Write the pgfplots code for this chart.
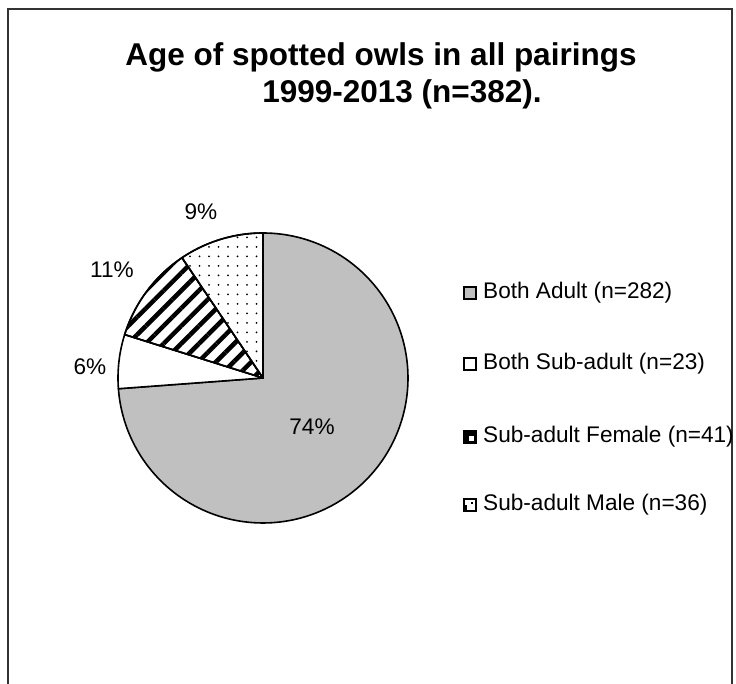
\documentclass[border=0pt]{standalone}
\usepackage{pgfplots}
\pgfplotsset{compat=1.18}
\usepackage{fontspec}
\setmainfont{Liberation Sans}
\usetikzlibrary{patterns.meta}
\definecolor{pieGray}{RGB}{192,192,192}
% counts of pairings
\def\cA{282}% Both Adult
\def\cB{23}% Both Sub-adult
\def\cC{41}% Sub-adult Female
\def\cD{36}% Sub-adult Male
\pgfmathsetmacro\tot{\cA+\cB+\cC+\cD}
\pgfmathsetmacro\aA{90-(\cA/\tot)*360}
\pgfmathsetmacro\aB{\aA-(\cB/\tot)*360}
\pgfmathsetmacro\aC{\aB-(\cC/\tot)*360}
\begin{document}
\begin{tikzpicture}[x=1pt,y=1pt]
\path[use as bounding box] (0,0) rectangle (736,684);
\draw[line width=1.5pt, black!80] (8,-10) -- (8,675) -- (732,675) -- (732,-10);
\node[font=\fontsize{31.5}{36}\selectfont\bfseries] at (381,627) {Age of spotted owls in all pairings};
\node[font=\fontsize{31.5}{36}\selectfont\bfseries] at (402,590) {1999-2013 (n=382).};
\begin{axis}[at={(263pt,306pt)}, anchor=center, hide axis, x=145pt, y=145pt,
  xmin=-1, xmax=1, ymin=-1, ymax=1, clip=false]
\addplot[draw=black, line width=1.6pt, line join=round, fill=pieGray, domain=\aA:90, samples=150, variable=\t]
  ({cos(\t)},{sin(\t)}) -- (axis cs:0,0) -- cycle;
\addplot[draw=black, line width=1.6pt, line join=round, fill=white, domain=\aB:\aA, samples=30, variable=\t]
  ({cos(\t)},{sin(\t)}) -- (axis cs:0,0) -- cycle;
\addplot[draw=black, line width=1.6pt, line join=round, preaction={fill=white}, pattern={Lines[angle=45,distance=12.5pt,line width=4.5pt]}, pattern color=black, domain=\aC:\aB, samples=40, variable=\t]
  ({cos(\t)},{sin(\t)}) -- (axis cs:0,0) -- cycle;
\addplot[draw=black, line width=1.6pt, line join=round, preaction={fill=white}, pattern={Dots[distance=9.5pt,radius=1pt]}, pattern color=black, domain=-270:\aC, samples=40, variable=\t]
  ({cos(\t)},{sin(\t)}) -- (axis cs:0,0) -- cycle;
\end{axis}
% percentage labels
\begin{scope}[every node/.style={font=\fontsize{22.6}{27}\selectfont}]
\node at (312,257) {74\%};
\node at (90,317) {6\%};
\node at (112,414) {11\%};
\node at (201,472) {9\%};
\end{scope}
% legend
\begin{scope}[every node/.style={font=\fontsize{22.6}{27}\selectfont, anchor=west, inner sep=0pt}]
\draw[line width=1.5pt, fill=pieGray] (464,385) rectangle (476,397);
\node at (483,391) {Both Adult (n=282)};
\draw[line width=1.5pt, fill=white] (464,314) rectangle (476,326);
\node at (483,320) {Both Sub-adult (n=23)};
\draw[line width=1.5pt, fill=black] (464,241) rectangle (476,253);
\fill[white] (469,243) rectangle (474,248);
\node at (483,247) {Sub-adult Female (n=41)};
\draw[line width=1.5pt, fill=white] (464,173) rectangle (476,185);
\fill (464,173) rectangle (467,179);
\fill (471,180) rectangle (473,182);
\node at (483,179) {Sub-adult Male (n=36)};
\end{scope}
\end{tikzpicture}
\end{document}
